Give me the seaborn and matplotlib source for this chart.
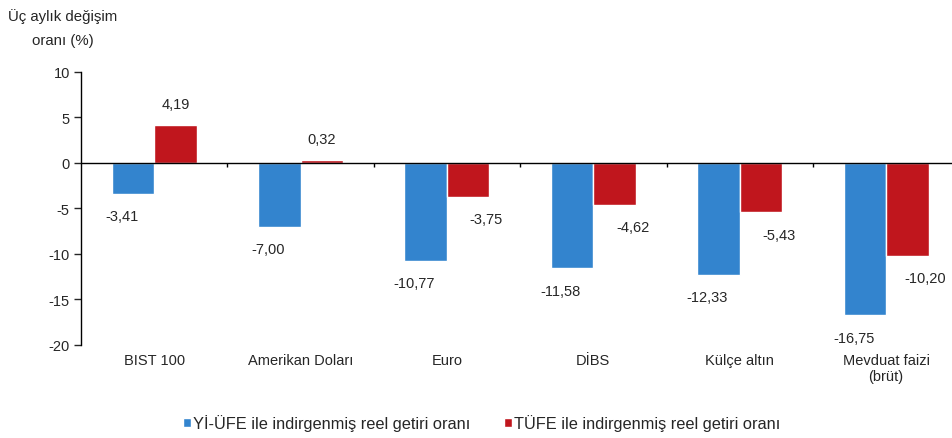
import pandas as pd
import numpy as np
import matplotlib
matplotlib.use('Agg')
import matplotlib.pyplot as plt
import seaborn as sns

# Data
categories = ['BIST 100', 'Amerikan Doları', 'Euro', 'DİBS', 'Külçe altın', 'Mevduat faizi\n(brüt)']
yi_ufe = [-3.41, -7.00, -10.77, -11.58, -12.33, -16.75]
tufe = [4.19, 0.32, -3.75, -4.62, -5.43, -10.20]
series_names = ['Yİ-ÜFE ile indirgenmiş reel getiri oranı', 'TÜFE ile indirgenmiş reel getiri oranı']
colors = ['#3384CE', '#C0161D']

df = pd.DataFrame({
    'kategori': categories * 2,
    'deger': yi_ufe + tufe,
    'seri': [series_names[0]] * len(categories) + [series_names[1]] * len(categories),
})

sns.set_style('white')
plt.rcParams['font.family'] = ['Liberation Sans', 'DejaVu Sans']

fig = plt.figure(figsize=(9.52, 4.39), dpi=100)
ax = fig.add_axes([0.085, 0.212, 0.915, 0.622])

sns.barplot(data=df, x='kategori', y='deger', hue='seri', palette=colors,
            width=0.58, gap=0, saturation=1, ax=ax, legend=True)

ax.set_xlim(-0.5, 5.45)
ax.set_ylim(-20, 10)
ax.set_yticks(np.arange(-20, 11, 5))
ax.set_yticklabels([str(v) for v in range(-20, 11, 5)], fontsize=10.5)
ax.set_xlabel('')
ax.set_ylabel('')
ax.tick_params(axis='x', length=0, labelsize=10.5, pad=6)
ax.tick_params(axis='y', length=5, width=1, direction='out', left=True, pad=3)
for s in ['top', 'right', 'bottom']:
    ax.spines[s].set_visible(False)
ax.spines['left'].set_color('black')
ax.spines['left'].set_linewidth(1)

# zero line with small ticks between categories
ax.axhline(0, color='black', lw=1, zorder=3)
ax.vlines(np.arange(len(categories) - 1) + 0.5, -0.5, 0, color='black', lw=1, zorder=3)

# value labels
for i, v in enumerate(yi_ufe):
    ax.annotate(f'{v:.2f}'.replace('.', ','), (i - 0.145, v), xytext=(-8, -16),
                textcoords='offset points', ha='center', va='center', fontsize=10.5)
for i, v in enumerate(tufe):
    if v >= 0:
        off = (0, 15)
    else:
        off = (13, -16)
    ax.annotate(f'{v:.2f}'.replace('.', ','), (i + 0.145, v), xytext=off,
                textcoords='offset points', ha='center', va='center', fontsize=10.5)

# y title
fig.text(0.066, 0.98, 'Üç aylık değişim\noranı (%)', ha='center', va='top',
         multialignment='center', fontsize=10.8, linespacing=1.9)

# legend
handles, labels = ax.get_legend_handles_labels()
ax.legend(handles, labels, loc='center', bbox_to_anchor=(0.46, -0.285), ncol=2,
          frameon=False, fontsize=11.8, handlelength=0.5, handleheight=0.5,
          handletextpad=0.15, columnspacing=2.0)

fig.savefig('out.png', dpi=100)
